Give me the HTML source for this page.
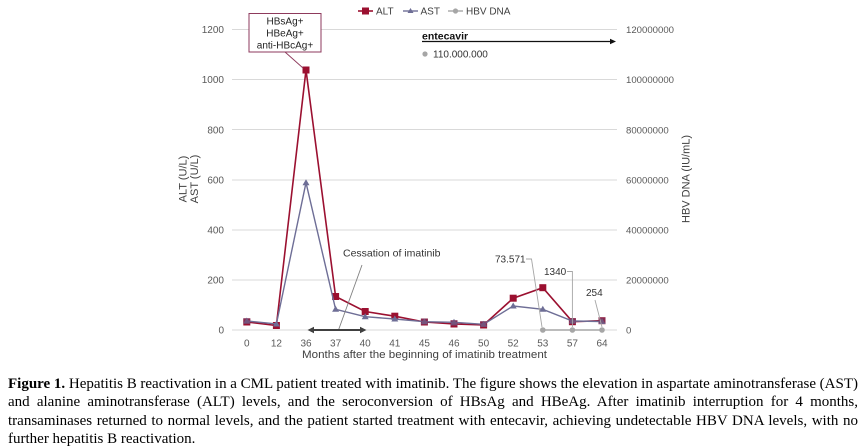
<!DOCTYPE html>
<html>
<head>
<meta charset="utf-8">
<style>
html,body{margin:0;padding:0;background:#fff;}
body{width:864px;height:447px;overflow:hidden;position:relative;}
svg{position:absolute;left:0;top:0;}
.cap{position:absolute;left:8px;width:850px;height:18px;overflow:hidden;font-family:"Liberation Serif",serif;font-size:15px;line-height:18px;color:#000;white-space:nowrap;}
.j{text-align:justify;text-align-last:justify;white-space:normal;}
</style>
</head>
<body>
<svg width="864" height="447" viewBox="0 0 864 447" xmlns="http://www.w3.org/2000/svg" font-family="Liberation Sans, Arial, sans-serif">
  <!-- gridlines -->
  <g stroke="#d9d9d9" stroke-width="1">
    <line x1="232" y1="29.5" x2="617" y2="29.5"/>
    <line x1="232" y1="79.5" x2="617" y2="79.5"/>
    <line x1="232" y1="129.5" x2="617" y2="129.5"/>
    <line x1="232" y1="180" x2="617" y2="180"/>
    <line x1="232" y1="230" x2="617" y2="230"/>
    <line x1="232" y1="280" x2="617" y2="280"/>
    <line x1="232" y1="330" x2="617" y2="330"/>
  </g>
  <!-- left ticks -->
  <g font-size="10" fill="#595959" text-anchor="end">
    <text x="224" y="33">1200</text>
    <text x="224" y="83">1000</text>
    <text x="224" y="133.5">800</text>
    <text x="224" y="183.5">600</text>
    <text x="224" y="233.5">400</text>
    <text x="224" y="283.5">200</text>
    <text x="224" y="333.5">0</text>
  </g>
  <!-- right ticks -->
  <g font-size="9.6" fill="#595959">
    <text x="626" y="33">120000000</text>
    <text x="626" y="83">100000000</text>
    <text x="626" y="133.5">80000000</text>
    <text x="626" y="183.5">60000000</text>
    <text x="626" y="233.5">40000000</text>
    <text x="626" y="283.5">20000000</text>
    <text x="626" y="333.5">0</text>
  </g>
  <!-- x labels -->
  <g font-size="10" fill="#595959" text-anchor="middle">
    <text x="246.8" y="346.5">0</text>
    <text x="276.4" y="346.5">12</text>
    <text x="306" y="346.5">36</text>
    <text x="335.6" y="346.5">37</text>
    <text x="365.2" y="346.5">40</text>
    <text x="394.8" y="346.5">41</text>
    <text x="424.4" y="346.5">45</text>
    <text x="454" y="346.5">46</text>
    <text x="483.6" y="346.5">50</text>
    <text x="513.2" y="346.5">52</text>
    <text x="542.8" y="346.5">53</text>
    <text x="572.4" y="346.5">57</text>
    <text x="602" y="346.5">64</text>
  </g>
  <text x="424.5" y="358" font-size="11" fill="#404040" text-anchor="middle" textLength="245" lengthAdjust="spacingAndGlyphs">Months after the beginning of imatinib treatment</text>
  <!-- axis titles -->
  <text transform="translate(186.5,179) rotate(-90)" font-size="11" fill="#404040" text-anchor="middle">ALT (U/L)</text>
  <text transform="translate(198,179) rotate(-90)" font-size="11" fill="#404040" text-anchor="middle">AST (U/L)</text>
  <text transform="translate(689.5,179) rotate(-90)" font-size="11" fill="#404040" text-anchor="middle">HBV DNA (IU/mL)</text>

  <!-- HBV DNA series -->
  <g fill="#a6a6a6" stroke="none">
    <line x1="542.8" y1="330" x2="602" y2="330" stroke="#a6a6a6" stroke-width="1.5"/>
    <circle cx="542.8" cy="330" r="2.8"/>
    <circle cx="572.4" cy="330" r="2.8"/>
    <circle cx="602" cy="330" r="2.8"/>
  </g>

  <!-- ALT series -->
  <polyline fill="none" stroke="#9b1030" stroke-width="1.6" points="246.8,322 276.4,325.5 306,70 335.6,296.5 365.2,311.5 394.8,316.2 424.4,322 454,324 483.6,325 513.2,298.2 542.8,287.7 572.4,321.7 602,320.7"/>
  <g fill="#9b1030">
    <rect x="243.3" y="318.5" width="7" height="7"/>
    <rect x="272.9" y="322" width="7" height="7"/>
    <rect x="302.5" y="66.5" width="7" height="7"/>
    <rect x="332.1" y="293" width="7" height="7"/>
    <rect x="361.7" y="308" width="7" height="7"/>
    <rect x="391.3" y="312.7" width="7" height="7"/>
    <rect x="420.9" y="318.5" width="7" height="7"/>
    <rect x="450.5" y="320.5" width="7" height="7"/>
    <rect x="480.1" y="321.5" width="7" height="7"/>
    <rect x="509.7" y="294.7" width="7" height="7"/>
    <rect x="539.3" y="284.2" width="7" height="7"/>
    <rect x="568.9" y="318.2" width="7" height="7"/>
    <rect x="598.5" y="317.2" width="7" height="7"/>
  </g>

  <!-- AST series -->
  <polyline fill="none" stroke="#6e6e96" stroke-width="1.4" points="246.8,321 276.4,324 306,182.7 335.6,309.3 365.2,316.7 394.8,319 424.4,321.7 454,322.3 483.6,324.3 513.2,306 542.8,309.3 572.4,321 602,321.5"/>
  <g fill="#6e6e96">
    <path d="M246.8,317.5 L250.3,323.5 L243.3,323.5 Z"/>
    <path d="M276.4,320.5 L279.9,326.5 L272.9,326.5 Z"/>
    <path d="M306,179.2 L309.5,185.2 L302.5,185.2 Z"/>
    <path d="M335.6,305.8 L339.1,311.8 L332.1,311.8 Z"/>
    <path d="M365.2,313.2 L368.7,319.2 L361.7,319.2 Z"/>
    <path d="M394.8,315.5 L398.3,321.5 L391.3,321.5 Z"/>
    <path d="M424.4,318.2 L427.9,324.2 L420.9,324.2 Z"/>
    <path d="M454,318.8 L457.5,324.8 L450.5,324.8 Z"/>
    <path d="M483.6,320.8 L487.1,326.8 L480.1,326.8 Z"/>
    <path d="M513.2,302.5 L516.7,308.5 L509.7,308.5 Z"/>
    <path d="M542.8,305.8 L546.3,311.8 L539.3,311.8 Z"/>
    <path d="M572.4,317.5 L575.9,323.5 L568.9,323.5 Z"/>
    <path d="M602,318 L605.5,324 L598.5,324 Z"/>
  </g>
  <g fill="#7a3f6a" opacity="0.55">
    <rect x="243.3" y="318" width="7" height="6"/>
    <rect x="420.9" y="318.5" width="7" height="6"/>
    <rect x="450.5" y="320" width="7" height="6"/>
    <rect x="480.1" y="321" width="7" height="6"/>
    <rect x="568.9" y="318" width="7" height="6"/>
    <rect x="598.5" y="317.5" width="7" height="6"/>
  </g>

  <!-- Legend -->
  <g font-size="10" fill="#404040">
    <line x1="358" y1="11" x2="373" y2="11" stroke="#9b1030" stroke-width="1.6"/>
    <rect x="362" y="7.5" width="7" height="7" fill="#9b1030"/>
    <text x="376" y="14.5">ALT</text>
    <line x1="403" y1="11" x2="418" y2="11" stroke="#6e6e96" stroke-width="1.4"/>
    <path d="M410.5,8 L413.5,13 L407.5,13 Z" fill="#6e6e96"/>
    <text x="420.5" y="14.5">AST</text>
    <line x1="448" y1="11" x2="463" y2="11" stroke="#a6a6a6" stroke-width="1.4"/>
    <circle cx="455.5" cy="11" r="2.6" fill="#a6a6a6"/>
    <text x="466" y="14.5">HBV DNA</text>
  </g>

  <!-- HBsAg box -->
  <rect x="249" y="13.5" width="72" height="38.5" fill="#fff" stroke="#8e3a5c" stroke-width="1"/>
  <line x1="285" y1="52" x2="303" y2="68" stroke="#8e3a5c" stroke-width="0.9"/>
  <g font-size="10" fill="#222" text-anchor="middle">
    <text x="285" y="24.5">HBsAg+</text>
    <text x="285" y="36.5">HBeAg+</text>
    <text x="285" y="48.5">anti-HBcAg+</text>
  </g>

  <!-- entecavir -->
  <text x="422" y="39.5" font-size="10.5" font-weight="bold" fill="#111">entecavir</text>
  <line x1="422" y1="41.5" x2="612" y2="41.5" stroke="#111" stroke-width="1.3"/>
  <path d="M616,41.5 L610,38.8 L610,44.2 Z" fill="#111"/>
  <circle cx="425" cy="54" r="2.6" fill="#a6a6a6"/>
  <text x="433" y="57.5" font-size="10" fill="#333">110.000.000</text>

  <!-- Cessation of imatinib -->
  <text x="343" y="256.5" font-size="10.5" fill="#333">Cessation of imatinib</text>
  <line x1="362" y1="265" x2="338.5" y2="330" stroke="#808080" stroke-width="0.9"/>
  <line x1="312" y1="330" x2="362" y2="330" stroke="#404040" stroke-width="2"/>
  <path d="M307.5,330 L314,326.8 L314,333.2 Z" fill="#404040"/>
  <path d="M366.5,330 L360,326.8 L360,333.2 Z" fill="#404040"/>

  <!-- HBV DNA callouts -->
  <g font-size="10" fill="#333">
    <text x="495" y="262.5">73.571</text>
    <text x="544" y="275">1340</text>
    <text x="586" y="296">254</text>
  </g>
  <g stroke="#a6a6a6" stroke-width="0.9" fill="none">
    <polyline points="526,259 531.5,259 542,327"/>
    <polyline points="567,271.5 572.4,271.5 572.4,327"/>
    <polyline points="595,300 602,327"/>
  </g>
</svg>

<div class="cap j" style="top:375px;word-spacing:-2.5px;"><b>Figure 1.</b> Hepatitis B reactivation in a CML patient treated with imatinib. The figure shows the elevation in aspartate aminotransferase (AST)</div>
<div class="cap j" style="top:393.3px;">and alanine aminotransferase (ALT) levels, and the seroconversion of HBsAg and HBeAg. After imatinib interruption for 4 months,</div>
<div class="cap j" style="top:411.6px;">transaminases returned to normal levels, and the patient started treatment with entecavir, achieving undetectable HBV DNA levels, with no</div>
<div class="cap" style="top:430px;">further hepatitis B reactivation.</div>
</body>
</html>
